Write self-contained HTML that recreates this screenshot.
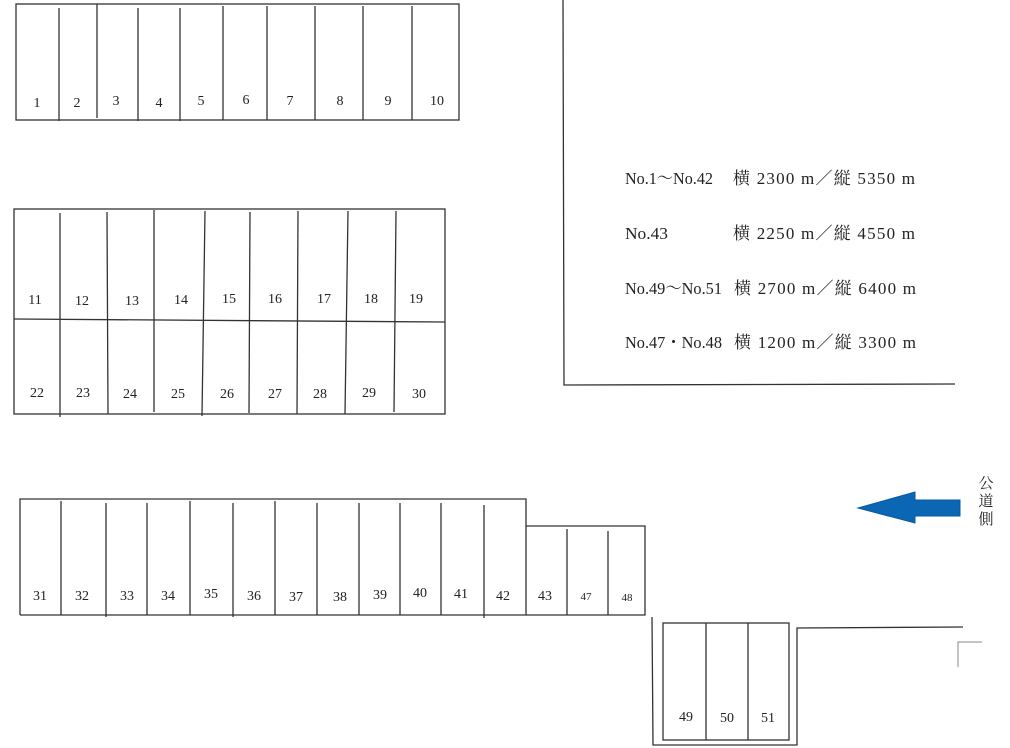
<!DOCTYPE html>
<html><head><meta charset="utf-8"><style>
html,body{margin:0;padding:0;background:#fff;width:1010px;height:748px;overflow:hidden}
svg{display:block}
text{font-family:"Liberation Serif","Noto Serif CJK SC",serif;fill:#222}
.n{font-size:14px;text-anchor:middle}
.s{font-size:11px;text-anchor:middle}
.t{font-size:17px}
line,rect,polyline{stroke:#333;stroke-width:1.3;fill:none}
</style></head><body>
<svg width="1010" height="748" viewBox="0 0 1010 748">
<!-- top row -->
<rect x="16" y="4" width="443" height="116"/>
<g>
<line x1="59" y1="8" x2="59" y2="121"/><line x1="97" y1="4" x2="97" y2="118"/><line x1="138" y1="8" x2="138" y2="121"/>
<line x1="180" y1="8" x2="180" y2="121"/><line x1="223" y1="6" x2="223" y2="120"/><line x1="267" y1="6" x2="267" y2="120"/>
<line x1="315" y1="6" x2="315" y2="120"/><line x1="363" y1="6" x2="363" y2="120"/><line x1="412" y1="6" x2="412" y2="120"/>
</g>
<text class="n" x="37" y="107">1</text><text class="n" x="77" y="107">2</text><text class="n" x="116" y="105">3</text>
<text class="n" x="159" y="107">4</text><text class="n" x="201" y="105">5</text><text class="n" x="246" y="104">6</text>
<text class="n" x="290" y="105">7</text><text class="n" x="340" y="105">8</text><text class="n" x="388" y="105">9</text>
<text class="n" x="437" y="105">10</text>
<!-- middle block -->
<rect x="14" y="209" width="431" height="205"/>
<line x1="14" y1="319" x2="445" y2="322"/>
<line x1="60" y1="213" x2="60" y2="417"/><line x1="107" y1="212" x2="108" y2="414"/><line x1="154" y1="210" x2="154" y2="412"/>
<line x1="205" y1="211" x2="202" y2="416"/><line x1="250" y1="212" x2="249" y2="413"/><line x1="298" y1="211" x2="297" y2="414"/>
<line x1="348" y1="211" x2="345" y2="414"/><line x1="396" y1="211" x2="394" y2="412"/>
<text class="n" x="35" y="304">11</text><text class="n" x="82" y="305">12</text><text class="n" x="132" y="305">13</text>
<text class="n" x="181" y="304">14</text><text class="n" x="229" y="303">15</text><text class="n" x="275" y="303">16</text>
<text class="n" x="324" y="303">17</text><text class="n" x="371" y="303">18</text><text class="n" x="416" y="303">19</text>
<text class="n" x="37" y="397">22</text><text class="n" x="83" y="397">23</text><text class="n" x="130" y="398">24</text>
<text class="n" x="178" y="398">25</text><text class="n" x="227" y="398">26</text><text class="n" x="275" y="398">27</text>
<text class="n" x="320" y="398">28</text><text class="n" x="369" y="397">29</text><text class="n" x="419" y="398">30</text>
<!-- bottom row -->
<polyline points="20,615 20,499 526,499 526,526 645,526 645,615 20,615"/>
<line x1="526" y1="526" x2="526" y2="615"/>
<line x1="61" y1="501" x2="61" y2="615"/><line x1="106" y1="503" x2="106" y2="617"/><line x1="147" y1="503" x2="147" y2="615"/>
<line x1="190" y1="501" x2="190" y2="615"/><line x1="233" y1="503" x2="233" y2="617"/><line x1="275" y1="501" x2="275" y2="615"/>
<line x1="317" y1="503" x2="317" y2="615"/><line x1="359" y1="503" x2="359" y2="615"/><line x1="400" y1="503" x2="400" y2="615"/>
<line x1="441" y1="503" x2="441" y2="615"/><line x1="484" y1="505" x2="484" y2="618"/>
<line x1="567" y1="529" x2="567" y2="615"/><line x1="608" y1="531" x2="608" y2="615"/>
<text class="n" x="40" y="600">31</text><text class="n" x="82" y="600">32</text><text class="n" x="127" y="600">33</text>
<text class="n" x="168" y="600">34</text><text class="n" x="211" y="598">35</text><text class="n" x="254" y="600">36</text>
<text class="n" x="296" y="601">37</text><text class="n" x="340" y="601">38</text><text class="n" x="380" y="599">39</text>
<text class="n" x="420" y="597">40</text><text class="n" x="461" y="598">41</text><text class="n" x="503" y="600">42</text>
<text class="n" x="545" y="600">43</text><text class="s" x="586" y="600">47</text><text class="s" x="627" y="601">48</text>
<!-- 49-51 -->
<rect x="663" y="623" width="126" height="117"/>
<line x1="706" y1="623" x2="706" y2="740"/><line x1="748" y1="623" x2="748" y2="740"/>
<text class="n" x="686" y="721">49</text><text class="n" x="727" y="722">50</text><text class="n" x="768" y="722">51</text>
<polyline points="652,617 653,745 797,745 797,628 963,627"/>
<polyline points="958,667 958,642 982,642" style="stroke:#888;stroke-width:1"/>
<!-- right frame -->
<polyline points="563,0 564,385 955,384"/>
<text class="t" x="625" y="184" textLength="88" lengthAdjust="spacingAndGlyphs">No.1～No.42</text>
<text class="t" x="733" y="184" textLength="182" lengthAdjust="spacing">横 2300 m／縦 5350 m</text>
<text class="t" x="625" y="239" textLength="43" lengthAdjust="spacingAndGlyphs">No.43</text>
<text class="t" x="733" y="239" textLength="182" lengthAdjust="spacing">横 2250 m／縦 4550 m</text>
<text class="t" x="625" y="294" textLength="97" lengthAdjust="spacingAndGlyphs">No.49～No.51</text>
<text class="t" x="734" y="294" textLength="182" lengthAdjust="spacing">横 2700 m／縦 6400 m</text>
<text class="t" x="625" y="348" textLength="97" lengthAdjust="spacingAndGlyphs">No.47・No.48</text>
<text class="t" x="734" y="348" textLength="182" lengthAdjust="spacing">横 1200 m／縦 3300 m</text>
<!-- arrow -->
<polygon points="858,508 915,492 915,500 960,500 960,516 915,516 915,523" fill="#0b66b3" stroke="#0a5a9e" stroke-width="1"/>
<text x="986" y="488" style="font-size:15px;text-anchor:middle">公</text>
<text x="986" y="506" style="font-size:15px;text-anchor:middle">道</text>
<text x="986" y="524" style="font-size:15px;text-anchor:middle">側</text>
</svg>
</body></html>
